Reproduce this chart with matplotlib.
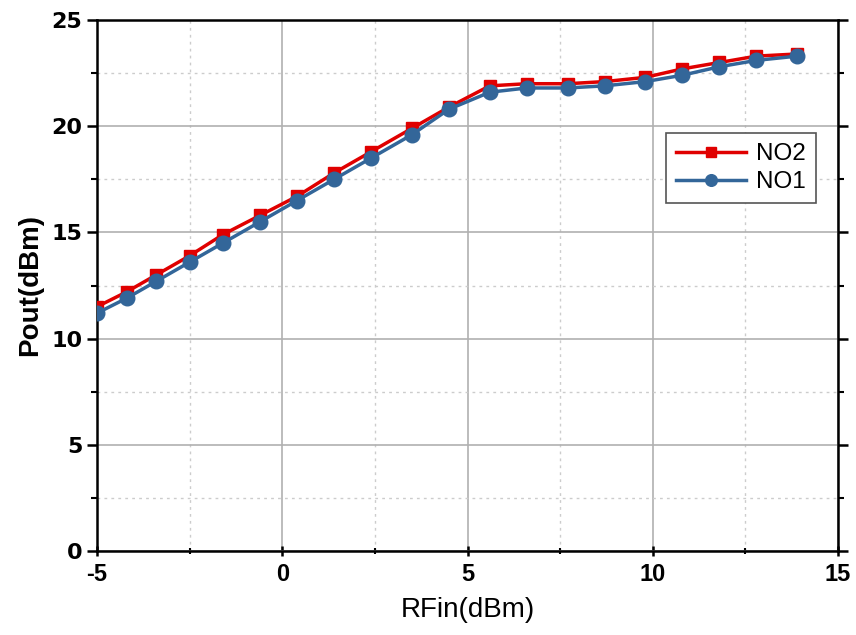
import matplotlib
matplotlib.use("Agg")
import matplotlib.pyplot as plt
from matplotlib.ticker import MultipleLocator

rfin = [-5, -4.2, -3.4, -2.5, -1.6, -0.6, 0.4, 1.4, 2.4, 3.5, 4.5, 5.6, 6.6, 7.7, 8.7, 9.8, 10.8, 11.8, 12.8, 13.9]
no2 = [11.5, 12.2, 13.0, 13.9, 14.9, 15.8, 16.7, 17.8, 18.8, 19.9, 20.9, 21.9, 22.0, 22.0, 22.1, 22.3, 22.7, 23.0, 23.3, 23.4]
no1 = [11.2, 11.9, 12.7, 13.6, 14.5, 15.5, 16.5, 17.5, 18.5, 19.6, 20.8, 21.6, 21.8, 21.8, 21.9, 22.1, 22.4, 22.8, 23.1, 23.3]

plt.rcParams['font.family'] = ['Liberation Sans', 'DejaVu Sans']
plt.rcParams['axes.unicode_minus'] = False

fig = plt.figure(figsize=(8.56, 6.35), dpi=100)
ax = fig.add_axes([97/856, 1-551/635, 741/856, 531/635])

ax.plot(rfin, no2, color='#e00000', lw=2.5, marker='s', ms=8.5, label='NO2', zorder=3)
ax.plot(rfin, no1, color='#336699', lw=2.5, marker='o', ms=10.5, label='NO1', zorder=4)

ax.set_xlim(-5, 15)
ax.set_ylim(0, 25)
ax.xaxis.set_major_locator(MultipleLocator(5))
ax.xaxis.set_minor_locator(MultipleLocator(2.5))
ax.yaxis.set_major_locator(MultipleLocator(5))
ax.yaxis.set_minor_locator(MultipleLocator(2.5))

ax.grid(which='major', color='#b0b0b0', lw=1.2, ls='-')
ax.grid(which='minor', color='#cccccc', lw=1.0, ls=(0, (2, 3)))
ax.set_axisbelow(True)

for s in ax.spines.values():
    s.set_linewidth(1.8)
ax.tick_params(which='major', direction='out', length=7, width=1.8,
               right=True, top=False)
ax.tick_params(which='minor', direction='out', length=4, width=1.5, right=True)
ax.tick_params(axis='x', which='both', direction='inout', labelsize=17, pad=5)
ax.tick_params(axis='y', which='both', labelsize=16)
for lbl in ax.get_xticklabels() + ax.get_yticklabels():
    lbl.set_fontweight('bold')
for lbl in ax.get_yticklabels():
    lbl.set_family(['DejaVu Sans'])

ax.set_xlabel('RFin(dBm)', fontsize=20, labelpad=8)
ax.set_ylabel('Pout(dBm)', fontsize=20, fontweight='bold', labelpad=6)

leg = ax.legend(loc='center', bbox_to_anchor=(0.869, 0.721), fontsize=17.5,
                fancybox=False, edgecolor='#555555', framealpha=1,
                handlelength=2.9, borderpad=0.4, labelspacing=0.25, handletextpad=0.4,
                markerscale=0.8)
leg.get_frame().set_linewidth(1.2)

fig.savefig('out.png', dpi=100)
